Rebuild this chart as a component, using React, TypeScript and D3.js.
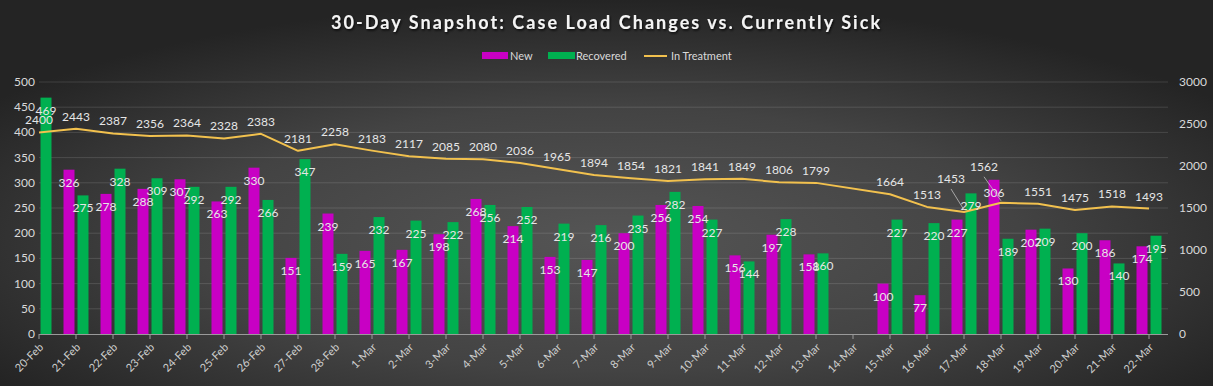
import React from "react";
import * as d3 from "d3";

const categories = ["20-Feb","21-Feb","22-Feb","23-Feb","24-Feb","25-Feb","26-Feb","27-Feb","28-Feb","1-Mar","2-Mar","3-Mar","4-Mar","5-Mar","6-Mar","7-Mar","8-Mar","9-Mar","10-Mar","11-Mar","12-Mar","13-Mar","14-Mar","15-Mar","16-Mar","17-Mar","18-Mar","19-Mar","20-Mar","21-Mar","22-Mar"];
const newCases: (number | null)[] = [null,326,278,288,307,263,330,151,239,165,167,198,268,214,153,147,200,256,254,156,197,158,null,100,77,227,306,207,130,186,174];
const recovered: (number | null)[] = [469,275,328,309,292,292,266,347,159,232,225,222,256,252,219,216,235,282,227,144,228,160,null,227,220,279,189,209,200,140,195];
const inTreatment: (number | null)[] = [2400,2443,2387,2356,2364,2328,2383,2181,2258,2183,2117,2085,2080,2036,1965,1894,1854,1821,1841,1849,1806,1799,null,1664,1513,1453,1562,1551,1475,1518,1493];
const leftTicks = [0,50,100,150,200,250,300,350,400,450,500];
const rightTicks = [0,500,1000,1500,2000,2500,3000];

const W = 1213, H = 386;
const X0 = 39, X1 = 1149, PR = 1168;
const Y0 = 334, Y1 = 82;
const MAG = "#c800c4", GRN = "#00b050", GOLD = "#f2c14e";
const FONT = "Lato, 'Open Sans', sans-serif";
const LBL = "#e6e6e6";

// label displacement (with leader line) for crowded line labels
const lineLabelShift: Record<string, [number, number]> = { "17-Mar": [-13, -29], "18-Mar": [-17, -32] };

export default function App() {
  const x = d3.scalePoint<string>().domain(categories).range([X0, X1]);
  const yL = d3.scaleLinear().domain([0, 500]).range([Y0, Y1]);
  const yR = d3.scaleLinear().domain([0, 3000]).range([Y0, Y1]);
  const bw = 11;
  const pts = categories
    .map((c, i) => ({ c, v: inTreatment[i] }))
    .filter((d) => d.v != null) as { c: string; v: number }[];
  const line = d3.line<{ c: string; v: number }>().x((d) => x(d.c)!).y((d) => yR(d.v));

  return (
    <svg width={W} height={H} style={{ position: "absolute", left: 0, top: 0, display: "block" }}>
      <defs>
        <radialGradient id="bg" cx="50%" cy="62%" r="62%">
          <stop offset="0%" stopColor="#555555" />
          <stop offset="55%" stopColor="#434343" />
          <stop offset="100%" stopColor="#242424" />
        </radialGradient>
        <filter id="sh" x="-10%" y="-50%" width="120%" height="200%">
          <feDropShadow dx="1" dy="1.5" stdDeviation="1" floodColor="#000" floodOpacity="0.8" />
        </filter>
        <clipPath id="plot">
          <rect x={X0} y={0} width={PR - X0} height={Y0} />
        </clipPath>
      </defs>
      <rect width={W} height={H} fill="url(#bg)" />
      <text x={605.5} y={29} textAnchor="middle" fontFamily={FONT} fontWeight="bold" fontSize={18}
        fill="#f4f4f4" textLength={549} lengthAdjust="spacing" filter="url(#sh)">
        30-Day Snapshot:  Case Load Changes vs. Currently Sick
      </text>
      {/* legend */}
      <g fontFamily={FONT} fontSize={11} fill="#d9d9d9">
        <rect x={482} y={52} width={26} height={7} fill={MAG} />
        <text x={510} y={60}>New</text>
        <rect x={548} y={52} width={27} height={7} fill={GRN} />
        <text x={576} y={60}>Recovered</text>
        <line x1={644} x2={667} y1={56} y2={56} stroke={GOLD} strokeWidth={2} />
        <text x={671} y={60}>In Treatment</text>
      </g>
      {/* gridlines */}
      {leftTicks.slice(1).map((t) => (
        <line key={t} x1={X0} x2={PR} y1={yL(t)} y2={yL(t)} stroke="#ffffff" strokeOpacity={0.13} strokeWidth={1} />
      ))}
      {/* left axis labels */}
      {leftTicks.map((t) => (
        <text key={t} x={35} y={yL(t) + 4} textAnchor="end" fontFamily={FONT} fontSize={12} fill="#d9d9d9">{t}</text>
      ))}
      {rightTicks.map((t) => (
        <text key={t} x={1179} y={yR(t) + 4} textAnchor="start" fontFamily={FONT} fontSize={12} fill="#d9d9d9">{t}</text>
      ))}
      <g clipPath="url(#plot)">
        {categories.map((c, i) => (
          <g key={c}>
            {newCases[i] != null && (
              <rect x={x(c)! - 1.5 - bw} y={yL(newCases[i]!)} width={bw} height={Y0 - yL(newCases[i]!)} fill={MAG} />
            )}
            {recovered[i] != null && (
              <rect x={x(c)! + 1.5} y={yL(recovered[i]!)} width={bw} height={Y0 - yL(recovered[i]!)} fill={GRN} />
            )}
          </g>
        ))}
      </g>
      {/* x axis */}
      <line x1={X0} x2={PR} y1={Y0 + 0.5} y2={Y0 + 0.5} stroke="#9a9a9a" strokeWidth={1} />
      {categories.map((c) => (
        <line key={c} x1={x(c)!} x2={x(c)!} y1={Y0} y2={Y0 + 5} stroke="#9a9a9a" strokeWidth={1} />
      ))}
      {categories.map((c) => (
        <text key={c} transform={`translate(${x(c)! + 5},${Y0 + 14}) rotate(-45)`} textAnchor="end"
          fontFamily={FONT} fontSize={11} fill="#cfcfcf">{c}</text>
      ))}
      {/* line */}
      <path d={line(pts)!} fill="none" stroke={GOLD} strokeWidth={2} strokeLinejoin="round" />
      {/* bar labels */}
      <g fontFamily={FONT} fontSize={12} fill={LBL} textAnchor="middle">
        {categories.map((c, i) => (
          <g key={c}>
            {newCases[i] != null && (
              <text x={x(c)! - 1.5 - bw / 2} y={yL(newCases[i]!) + 17}>{newCases[i]}</text>
            )}
            {recovered[i] != null && (
              <text x={x(c)! + 1.5 + bw / 2} y={yL(recovered[i]!) + 17}>{recovered[i]}</text>
            )}
          </g>
        ))}
      </g>
      {/* line labels */}
      <g fontFamily={FONT} fontSize={12} fill={LBL} textAnchor="middle">
        {pts.map((d) => {
          const px = x(d.c)!, py = yR(d.v);
          const s = lineLabelShift[d.c];
          if (s) {
            return (
              <g key={d.c}>
                <line x1={px + s[0]} y1={py + s[1] + 6} x2={px} y2={py - 2} stroke="#bfbfbf" strokeWidth={0.8} />
                <text x={px + s[0]} y={py + s[1]}>{d.v}</text>
              </g>
            );
          }
          return <text key={d.c} x={px} y={py - 8}>{d.v}</text>;
        })}
      </g>
    </svg>
  );
}
